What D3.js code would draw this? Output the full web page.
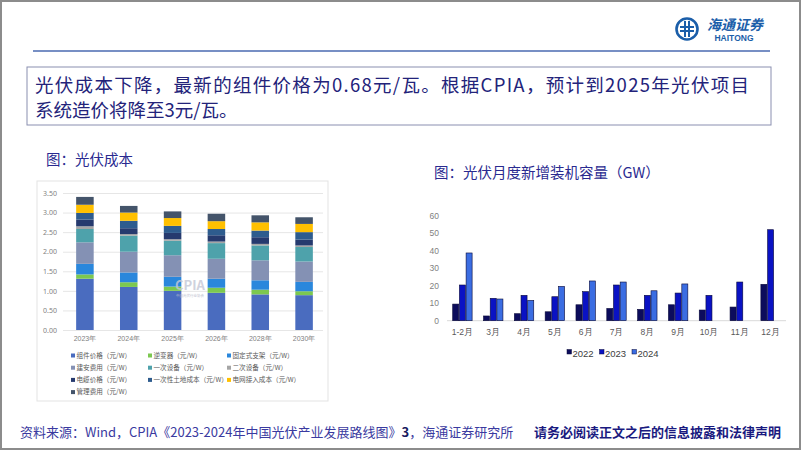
<!DOCTYPE html>
<html><head><meta charset="utf-8">
<script src="https://cdn.jsdelivr.net/npm/d3@7"></script>
<style>
html,body{margin:0;padding:0;background:#fff;}
svg{display:block;font-family:"Noto Sans CJK SC","Noto Sans",sans-serif;}
</style></head>
<body>
<svg id="c" width="802" height="451"></svg>
<script>
// ---------- data ----------
const costYears = ["2023年","2024年","2025年","2026年","2028年","2030年"];
const costSeries = ["组件价格（元/W）","逆变器（元/W）","固定式支架（元/W）","建安费用（元/W）","一次设备（元/W）","二次设备（元/W）","电缆价格（元/W）","一次性土地成本（元/W）","电网接入成本（元/W）","管理费用（元/W）"];
const costModule   = [1.31,1.10,1.00,0.95,0.91,0.89];
const costInverter = [0.11,0.12,0.11,0.13,0.12,0.10];
const costBracket  = [0.27,0.25,0.25,0.23,0.24,0.24];
const costInstall  = [0.55,0.53,0.55,0.51,0.51,0.52];
const costPrimary  = [0.34,0.41,0.37,0.40,0.38,0.37];
const costSecond   = [0.07,0.04,0.04,0.04,0.04,0.04];
const costCable    = [0.17,0.15,0.16,0.16,0.17,0.15];
const costLand     = [0.17,0.19,0.18,0.16,0.17,0.19];
const costGrid     = [0.21,0.21,0.20,0.20,0.21,0.21];
const costMgmt     = [0.20,0.17,0.17,0.19,0.18,0.17];
const costTicks = [0,0.5,1,1.5,2,2.5,3,3.5];

const months = ["1-2月","3月","4月","5月","6月","7月","8月","9月","10月","11月","12月"];
const yearNames = ["2022","2023","2024"];
const inst2022 = [9.5,2.7,4.0,5.1,9.1,7.0,6.5,9.1,6.1,7.8,20.8];
const inst2023 = [20.4,12.8,14.5,13.7,16.6,20.4,14.5,15.8,14.5,22.1,52.0];
const inst2024 = [38.7,12.4,11.6,19.6,22.7,22.1,17.1,21.0,null,null,null];
const instTicks = [0,10,20,30,40,50,60];

// ---------- styles ----------
const costColors = ["#4a6cbf","#7cc850","#2a87dc","#8491b4","#4ea2ab","#a5a5a5","#263a6e","#2e5c8e","#ffc000","#44546a"];
const instColors = ["#0c0c5c","#0a12c4","#3b6de2"];
const navy = "#23237a";

const svg = d3.select("#c");

// frame
svg.append("rect").attr("x",1).attr("y",1).attr("width",799).attr("height",448)
  .attr("fill","none").attr("stroke","#8c8c8c").attr("stroke-width",2);
svg.append("line").attr("x1",33).attr("x2",770).attr("y1",51).attr("y2",51)
  .attr("stroke","#4a6ab0").attr("stroke-width",1.5);

// logo
const logo = svg.append("g").attr("transform","translate(687,29)");
logo.append("circle").attr("r",10.5).attr("fill","none").attr("stroke","#1b5ea9").attr("stroke-width",2.6);
logo.append("path").attr("d","M-7,-2 H7 M-7,2 H7 M-2,-8 V8 M2,-8 V8")
  .attr("stroke","#1b5ea9").attr("stroke-width",2).attr("fill","none");
svg.append("text").attr("x",735).attr("y",30).attr("text-anchor","middle")
  .attr("font-size",14).attr("font-style","italic").attr("font-weight","bold").attr("fill","#1b5ea9").text("海通证券");
svg.append("text").attr("x",734).attr("y",41).attr("text-anchor","middle")
  .attr("font-family","Liberation Sans, Arial, sans-serif")
  .attr("font-size",8.5).attr("font-weight","bold").attr("fill","#1b5ea9").text("HAITONG");

// headline box
svg.append("rect").attr("x",27).attr("y",67).attr("width",744).attr("height",58)
  .attr("fill","#fff").attr("stroke","#8a8fb0").attr("stroke-width",1);
svg.append("text").attr("x",35).attr("y",92).attr("font-size",18.5).attr("fill",navy)
  .attr("textLength",714).attr("lengthAdjust","spacing")
  .text("光伏成本下降，最新的组件价格为0.68元/瓦。根据CPIA，预计到2025年光伏项目");
svg.append("text").attr("x",35).attr("y",117).attr("font-size",18.5).attr("fill",navy)
  .text("系统造价将降至3元/瓦。");

// titles
svg.append("text").attr("x",46).attr("y",165).attr("font-size",14.5).attr("fill","#2a2a90").text("图：光伏成本");
svg.append("text").attr("x",434).attr("y",178).attr("font-size",14.5).attr("fill","#2a2a90").text("图：光伏月度新增装机容量（GW）");

// ---------- left chart ----------
svg.append("rect").attr("x",37).attr("y",181).attr("width",291).attr("height",220)
  .attr("fill","#fff").attr("stroke","#e3e3e3");

const costMatrix = [costModule,costInverter,costBracket,costInstall,costPrimary,costSecond,costCable,costLand,costGrid,costMgmt];
const costRows = costYears.map((y,i)=>{ const r={year:y}; costSeries.forEach((s,k)=>r[s]=costMatrix[k][i]); return r; });
const xc = d3.scaleBand().domain(costYears).range([63,326]).paddingInner(0.6).paddingOuter(0.3);
const yc = d3.scaleLinear().domain([0,3.5]).range([330,193]);

const gyc = svg.append("g").attr("transform","translate(63,0)")
  .call(d3.axisLeft(yc).tickValues(costTicks).tickFormat(d3.format(".2f")).tickSize(-260).tickPadding(6));
gyc.select(".domain").remove();
gyc.selectAll(".tick line").attr("stroke","#e6e6e6");
gyc.selectAll(".tick text").attr("font-size",7).attr("fill","#7f7f7f").attr("font-family","Noto Sans, sans-serif");

const stack = d3.stack().keys(costSeries)(costRows);
svg.append("g").selectAll("g").data(stack).join("g")
  .attr("fill",(d,i)=>costColors[i])
  .selectAll("rect").data(d=>d).join("rect")
  .attr("x",d=>xc(d.data.year)).attr("width",xc.bandwidth())
  .attr("y",d=>yc(d[1])).attr("height",d=>yc(d[0])-yc(d[1]));

const gxc = svg.append("g").attr("transform","translate(0,330)").call(d3.axisBottom(xc).tickSize(0).tickPadding(6));
gxc.select(".domain").remove();
gxc.selectAll("text").attr("font-size",7).attr("fill","#7f7f7f");

// watermark
svg.append("text").attr("x",190).attr("y",290).attr("text-anchor","middle").attr("font-size",13)
  .attr("font-weight","bold").attr("fill","#c4c8d6").attr("opacity",0.8).text("CPIA");
svg.append("text").attr("x",190).attr("y",297).attr("text-anchor","middle").attr("font-size",3.5)
  .attr("fill","#b8bccc").text("中国光伏行业协会");

// legend
const lg = svg.append("g");
costSeries.forEach((s,i)=>{
  const col=i%3,row=Math.floor(i/3);
  const gx=[71,148,227][col], gy=355.5+row*12.2;
  lg.append("rect").attr("x",gx).attr("y",gy-2).attr("width",4).attr("height",4).attr("fill",costColors[i]);
  lg.append("text").attr("x",gx+5.5).attr("y",gy+2.3).attr("font-size",6.6).attr("fill","#595959").text(s);
});

// ---------- right chart ----------
const x0 = d3.scaleBand().domain(months).range([447,786]).paddingInner(0.37).paddingOuter(0.185);
const x1 = d3.scaleBand().domain(yearNames).range([0,x0.bandwidth()]).paddingInner(0.1);
const yi = d3.scaleLinear().domain([0,60]).range([320.7,215.7]);
const instMatrix = [inst2022,inst2023,inst2024];

const gyi = svg.append("g").attr("transform","translate(441,0)")
  .call(d3.axisLeft(yi).tickValues(instTicks).tickSize(0).tickPadding(2));
gyi.select(".domain").remove();
gyi.selectAll("text").attr("font-size",8.5).attr("fill","#7f7f7f").attr("font-family","Liberation Sans, Arial, sans-serif");

svg.append("line").attr("x1",447).attr("x2",786).attr("y1",yi(0)).attr("y2",yi(0))
  .attr("stroke","#d9d9d9");

const grp = svg.append("g").selectAll("g").data(months).join("g")
  .attr("transform",m=>`translate(${x0(m)},0)`);
grp.selectAll("rect").data((m,i)=>yearNames.map((y,k)=>({y,k,v:instMatrix[k][i]})).filter(d=>d.v!=null))
  .join("rect")
  .attr("x",d=>x1(d.y)).attr("width",x1.bandwidth())
  .attr("y",d=>yi(d.v)).attr("height",d=>yi(0)-yi(d.v))
  .attr("fill",d=>instColors[d.k]).attr("stroke","#0a0a3a").attr("stroke-width",0.6);

const gxi = svg.append("g").attr("transform",`translate(0,${yi(0)})`)
  .call(d3.axisBottom(x0).tickSize(0).tickPadding(8));
gxi.select(".domain").remove();
gxi.selectAll("text").attr("font-size",8.5).attr("fill","#595959");

const il = svg.append("g");
[567,599.5,632].forEach((lx,k)=>{
  il.append("rect").attr("x",lx).attr("y",349.5).attr("width",4.5).attr("height",4.5)
    .attr("fill",instColors[k]).attr("stroke","#0a0a3a").attr("stroke-width",0.5);
  il.append("text").attr("x",lx+5.5).attr("y",356.5).attr("font-size",9.5).attr("fill","#404040")
    .attr("font-family","Liberation Sans, Arial, sans-serif").text(yearNames[k]);
});

// ---------- footer ----------
const ft = svg.append("text").attr("x",20).attr("y",437).attr("font-size",13).attr("fill","#3a3aa0");
ft.append("tspan").text("资料来源：Wind，CPIA《2023-2024年中国光伏产业发展路线图》");
ft.append("tspan").attr("font-weight","bold").attr("fill","#1a1a60").text("3");
ft.append("tspan").text("，海通证券研究所");
svg.append("text").attr("x",781).attr("y",437).attr("text-anchor","end").attr("font-size",13).attr("font-weight","bold")
  .attr("fill","#1a1a80").text("请务必阅读正文之后的信息披露和法律声明");
</script>
</body></html>
